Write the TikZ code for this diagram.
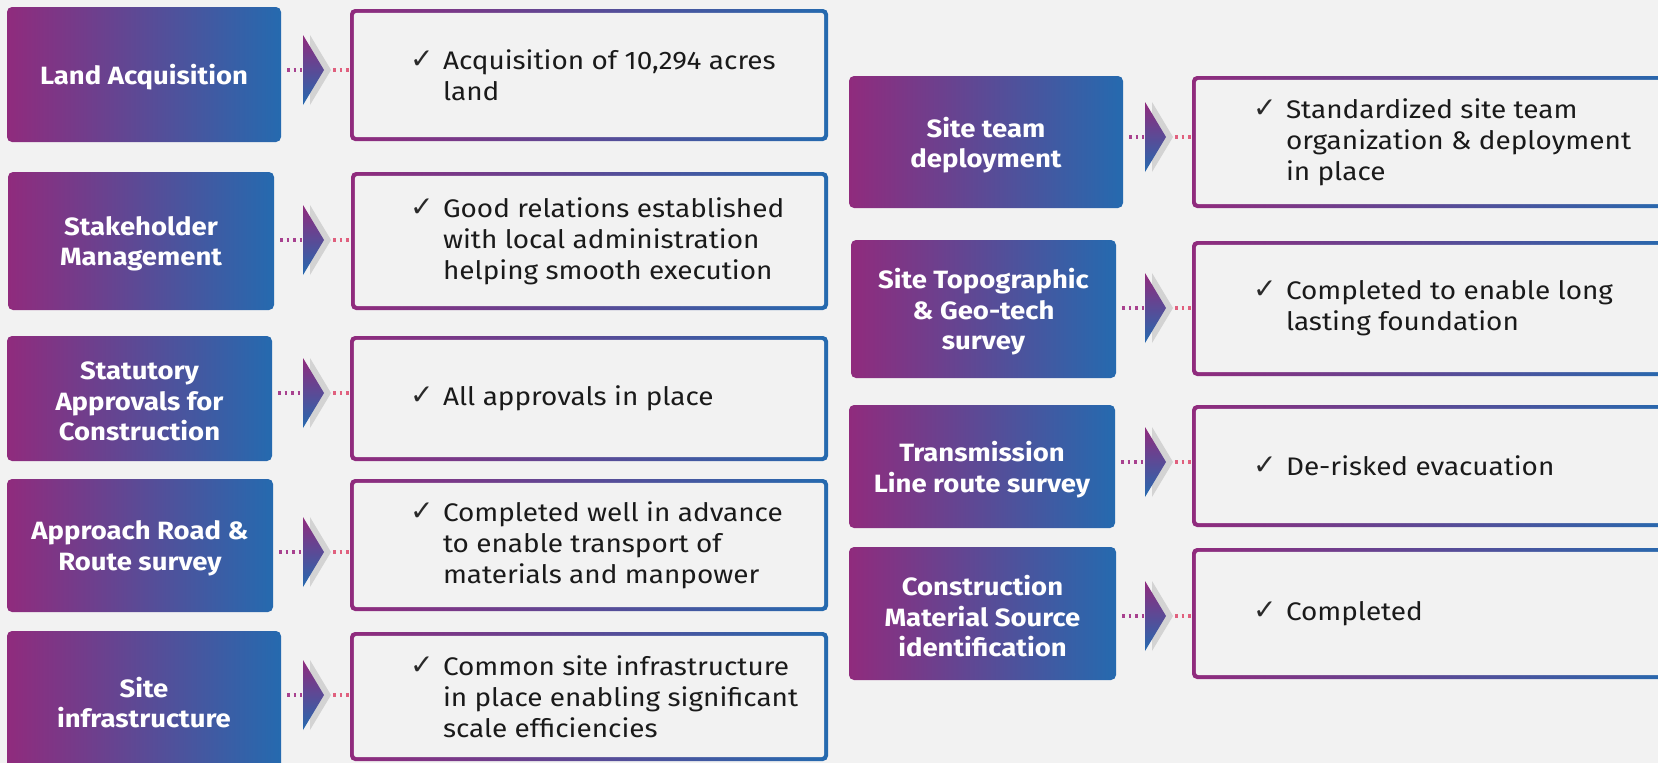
\documentclass[tikz,border=0pt]{standalone}
\usepackage{fontspec}
\setmainfont{Fira Sans}[FakeStretch=1.1]
\newfontfamily\symfont{DejaVu Sans}
\usetikzlibrary{calc}
\definecolor{cpurple}{HTML}{902B7D}
\definecolor{cblue}{HTML}{256AAF}
\definecolor{bg}{HTML}{F2F2F2}
\definecolor{dotl}{HTML}{A8418F}
\definecolor{dotr}{HTML}{E0607E}
\definecolor{shd}{HTML}{D3D3D3}
\definecolor{txt}{HTML}{1A1A1A}
\definecolor{chkc}{HTML}{2A2A2A}
\newcommand\chk{\makebox[33pt][l]{\symfont\fontsize{28}{31}\selectfont\color{chkc}\raisebox{1pt}{\char"2713}}}
\newcommand\ind{\hspace*{33pt}}
\tikzset{
 lbl/.style={rectangle, rounded corners=5pt, left color=cpurple, right color=cblue, inner sep=0pt},
 lbltext/.style={text=white, font=\bfseries\fontsize{25}{30.5}\selectfont, align=center, inner sep=0pt},
 res/.style={rectangle, rounded corners=5pt, left color=cpurple, right color=cblue, inner sep=0pt},
 inner/.style={bg, rounded corners=3pt},
 body/.style={anchor=west, align=left, text=txt, font=\fontsize{25.4}{31}\selectfont, inner sep=0pt},
 dotsL/.style={dotl, line width=3.5pt, dash pattern=on 2.5pt off 4pt},
 dotsR/.style={dotr, line width=3.5pt, dash pattern=on 2.5pt off 4pt},
 shadowtri/.style={shd},
 arrowtri/.style={top color=cpurple, bottom color=cblue},
}
\newcommand\chevron[1]{%
 \fill[shadowtri] ($(#1)+(7,-35)$) -- ($(#1)+(28,0)$) -- ($(#1)+(7,35)$) -- cycle;
 \shade[arrowtri] ($(#1)+(0,-35)$) -- ($(#1)+(21,0)$) -- ($(#1)+(0,35)$) -- cycle;}
\newcommand\hollow[1]{%
 \fill[inner] ($(#1.north west)+(4,4)$) rectangle ($(#1.south east)+(-4,-4)$);}
\begin{document}
\begin{tikzpicture}[x=1pt,y=-1pt]
\useasboundingbox (0,0) rectangle (1658,763);
\fill[bg] (0,0) rectangle (1658,763);
\clip (0,0) rectangle (1658,763);

% ---------- left column ----------
\node[lbl, minimum width=274, minimum height=135] (L1) at (144,74.5) {};
\node[lbltext] (L1t) at ($(L1)+(0,3)$) {Land Acquisition};
\node[res, minimum width=478, minimum height=132] (R1) at (589,75) {};
\hollow{R1}
\coordinate (A1) at (303,70);
\chevron{A1}
\draw[dotsL] ($(L1.east|-A1)+(6,0)$) -- ($(A1)+(-1,0)$);
\draw[dotsR] ($(A1)+(30,0)$) -- (R1.west|-A1);
\node[body] (T1) at ($(R1.west)+(60,0)$) {\chk Acquisition of 10,294 acres\\\ind land};

\node[lbl, minimum width=266, minimum height=138] (L2) at (141,241) {};
\node[lbltext] (L2t) at ($(L2)+(0,3)$) {Stakeholder\\Management};
\node[res, minimum width=477, minimum height=138] (R2) at (589.5,241) {};
\hollow{R2}
\coordinate (A2) at (303,240);
\chevron{A2}
\draw[dotsL] ($(L2.east|-A2)+(6,0)$) -- ($(A2)+(-1,0)$);
\draw[dotsR] ($(A2)+(30,0)$) -- (R2.west|-A2);
\node[body] (T2) at ($(R2.west)+(59,0)$) {\chk Good relations established\\\ind with local administration\\\ind helping smooth execution};

\node[lbl, minimum width=265, minimum height=125] (L3) at (139.5,398.5) {};
\node[lbltext] (L3t) at ($(L3)+(0,3)$) {Statutory\\Approvals for\\Construction};
\node[res, minimum width=478, minimum height=125] (R3) at (589,398.5) {};
\hollow{R3}
\coordinate (A3) at (303,393);
\chevron{A3}
\draw[dotsL] ($(L3.east|-A3)+(6,0)$) -- ($(A3)+(-1,0)$);
\draw[dotsR] ($(A3)+(30,0)$) -- (R3.west|-A3);
\node[body] (T3) at ($(R3.west)+(60,0)$) {\chk All approvals in place};

\node[lbl, minimum width=266, minimum height=133] (L4) at (140,545.5) {};
\node[lbltext] (L4t) at ($(L4)+(0,3)$) {Approach Road \&\\Route survey};
\node[res, minimum width=478, minimum height=132] (R4) at (589,545) {};
\hollow{R4}
\coordinate (A4) at (303,552);
\chevron{A4}
\draw[dotsL] ($(L4.east|-A4)+(6,0)$) -- ($(A4)+(-1,0)$);
\draw[dotsR] ($(A4)+(30,0)$) -- (R4.west|-A4);
\node[body] (T4) at ($(R4.west)+(60,0)$) {\chk Completed well in advance\\\ind to enable transport of\\\ind materials and manpower};

\node[lbl, minimum width=274, minimum height=137] (L5) at (144,699.5) {};
\node[lbltext] (L5t) at ($(L5)+(0,3)$) {Site\\infrastructure};
\node[res, minimum width=478, minimum height=129] (R5) at (589,696.5) {};
\hollow{R5}
\coordinate (A5) at (303,695);
\chevron{A5}
\draw[dotsL] ($(L5.east|-A5)+(6,0)$) -- ($(A5)+(-1,0)$);
\draw[dotsR] ($(A5)+(30,0)$) -- (R5.west|-A5);
\node[body] (T5) at ($(R5.west)+(60,0)$) {\chk Common site infrastructure\\\ind in place enabling significant\\\ind scale efficiencies};

% ---------- right column ----------
\node[lbl, minimum width=274, minimum height=132] (L6) at (986,142) {};
\node[lbltext] (L6t) at ($(L6)+(0,3)$) {Site team\\deployment};
\node[res, minimum width=490, minimum height=132] (R6) at (1437,142) {};
\hollow{R6}
\coordinate (A6) at (1145,137);
\chevron{A6}
\draw[dotsL] ($(L6.east|-A6)+(6,0)$) -- ($(A6)+(-1,0)$);
\draw[dotsR] ($(A6)+(30,0)$) -- (R6.west|-A6);
\node[body] (T6) at ($(R6.west)+(61,0)$) {\chk Standardized site team\\\ind organization \& deployment\\\ind in place};

\node[lbl, minimum width=265, minimum height=138] (L7) at (983.5,309) {};
\node[lbltext] (L7t) at ($(L7)+(0,3)$) {Site Topographic\\\& Geo-tech\\survey};
\node[res, minimum width=490, minimum height=135] (R7) at (1437,308.5) {};
\hollow{R7}
\coordinate (A7) at (1145,308);
\chevron{A7}
\draw[dotsL] ($(L7.east|-A7)+(6,0)$) -- ($(A7)+(-1,0)$);
\draw[dotsR] ($(A7)+(30,0)$) -- (R7.west|-A7);
\node[body] (T7) at ($(R7.west)+(61,0)$) {\chk Completed to enable long\\\ind lasting foundation};

\node[lbl, minimum width=266, minimum height=123] (L8) at (982,466.5) {};
\node[lbltext] (L8t) at ($(L8)+(0,3)$) {Transmission\\Line route survey};
\node[res, minimum width=490, minimum height=122] (R8) at (1437,466) {};
\hollow{R8}
\coordinate (A8) at (1145,462);
\chevron{A8}
\draw[dotsL] ($(L8.east|-A8)+(6,0)$) -- ($(A8)+(-1,0)$);
\draw[dotsR] ($(A8)+(30,0)$) -- (R8.west|-A8);
\node[body] (T8) at ($(R8.west)+(61,0)$) {\chk De-risked evacuation};

\node[lbl, minimum width=267, minimum height=133] (L9) at (982.5,613.5) {};
\node[lbltext] (L9t) at ($(L9)+(0,3)$) {Construction\\Material Source\\identification};
\node[res, minimum width=490, minimum height=131] (R9) at (1437,613.5) {};
\hollow{R9}
\coordinate (A9) at (1145,616);
\chevron{A9}
\draw[dotsL] ($(L9.east|-A9)+(6,0)$) -- ($(A9)+(-1,0)$);
\draw[dotsR] ($(A9)+(30,0)$) -- (R9.west|-A9);
\node[body] (T9) at ($(R9.west)+(61,0)$) {\chk Completed};
\end{tikzpicture}
\end{document}
